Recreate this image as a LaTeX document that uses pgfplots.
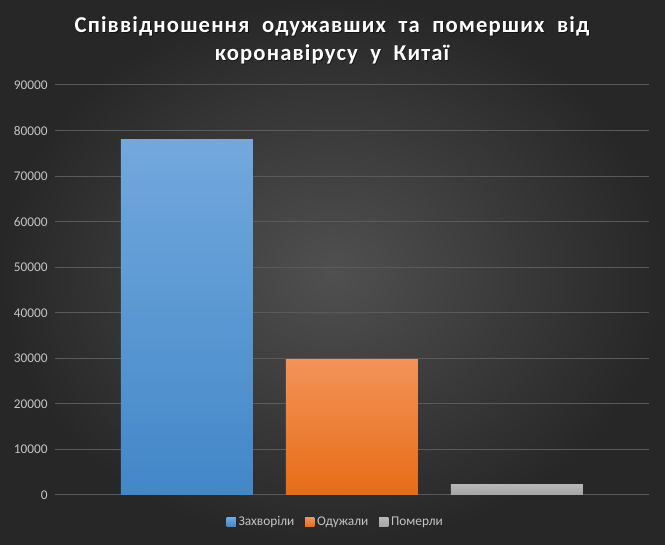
\documentclass[border=0pt]{standalone}
\usepackage{fontspec}
\setmainfont{Carlito}
\newfontfamily\titlefont[LetterSpace=5]{Carlito}
\usepackage{pgfplots}
\pgfplotsset{compat=1.18}
\definecolor{bgin}{HTML}{505050}
\definecolor{bgout}{HTML}{272727}
\definecolor{gridc}{HTML}{5A5A5A}
\definecolor{txt}{HTML}{C4C4C4}
\definecolor{bluetop}{HTML}{72A8DD}
\definecolor{bluebot}{HTML}{4287C8}
\definecolor{oratop}{HTML}{F39358}
\definecolor{orabot}{HTML}{E66C16}
\definecolor{graytop}{HTML}{B8B8B8}
\definecolor{graybot}{HTML}{A4A4A4}
\begin{document}
\begin{tikzpicture}
% background 665x545 px, 1px = 0.75pt
\shade[inner color=bgin, outer color=bgout] (0,0) rectangle (498.75pt,408.75pt);
\path[use as bounding box] (0,0) rectangle (498.75pt,408.75pt);
% title
\node[text=black, opacity=0.55, align=center, font=\titlefont\bfseries\fontsize{17}{21}\selectfont] at (249.6pt,377.8pt) {Співвідношення\ \ одужавших\ \ та\ \ померших\ \ від\\коронавірусу\ \ у\ \ Китаї};
\node[text=white, align=center, font=\titlefont\bfseries\fontsize{17}{21}\selectfont] at (249pt,378.5pt) {Співвідношення\ \ одужавших\ \ та\ \ померших\ \ від\\коронавірусу\ \ у\ \ Китаї};
\begin{axis}[
  at={(41.25pt,37.5pt)}, anchor=south west,
  scale only axis, width=445.5pt, height=307.5pt,
  xmin=-0.8, xmax=2.8, ymin=0, ymax=90000,
  xtick=\empty, ytick={0,10000,...,90000},
  axis line style={draw=none}, tick style={draw=none},
  ymajorgrids, grid style={gridc, line width=0.75pt},
  scaled y ticks=false,
  yticklabel style={/pgf/number format/1000 sep={}, /pgf/number format/assume math mode=true, font=\fontsize{10}{12}\selectfont, text=txt, xshift=-2pt},
  ybar, bar width=99pt, bar shift=0pt,
  legend style={at={(0.473,-0.066)}, anchor=center, draw=none, fill=none, text=txt, font=\fontsize{10}{12}\selectfont, legend columns=3, /tikz/every even column/.append style={column sep=6pt}},
  legend image code/.code={\fill[#1] (0pt,-3.5pt) rectangle (7pt,3.5pt);},
]
\addplot[draw=none, top color=bluetop, bottom color=bluebot] coordinates {(0,78000)};
\addplot[draw=none, top color=oratop, bottom color=orabot] coordinates {(1,29800)};
\addplot[draw=none, top color=graytop, bottom color=graybot] coordinates {(2,2400)};
\legend{Захворіли, Одужали, Померли}
\end{axis}
\end{tikzpicture}
\end{document}
